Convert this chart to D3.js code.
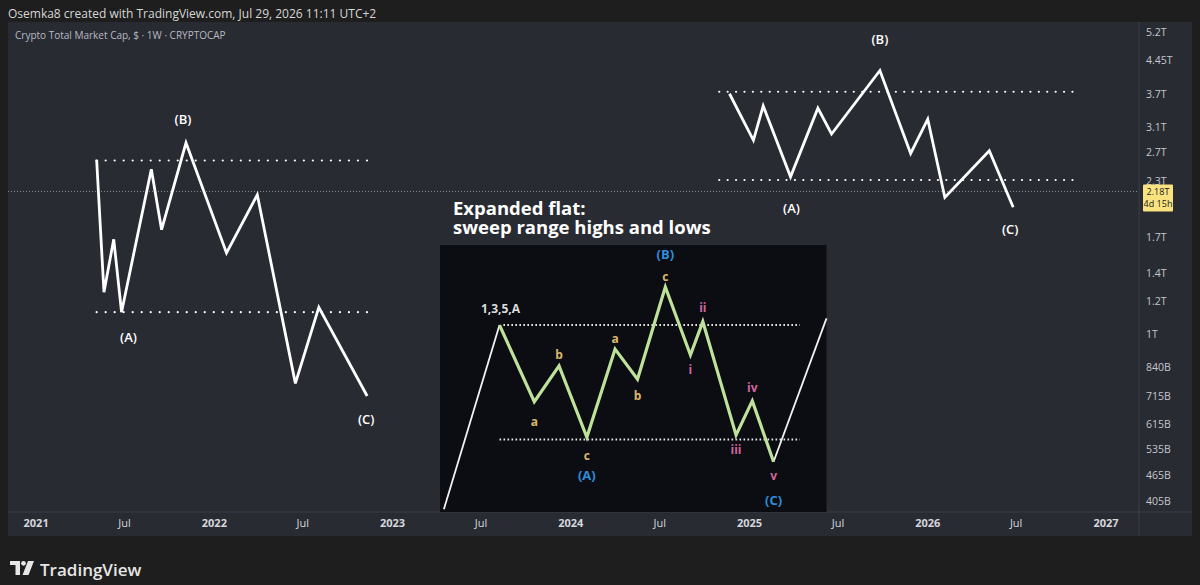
<!DOCTYPE html>
<html>
<head>
<meta charset="utf-8">
<script src="https://cdn.jsdelivr.net/npm/d3@7"></script>
<style>
  body { margin: 0; background: #1e1e1e; }
  svg { display: block; }
</style>
</head>
<body>
<svg width="1200" height="585"></svg>
<script>
// chart data (values in trillions of USD)
const timeTickDates = ["2021-01-01", "2021-07-01", "2022-01-01", "2022-07-01", "2023-01-01", "2023-07-01",
  "2024-01-01", "2024-07-01", "2025-01-01", "2025-07-01", "2026-01-01", "2026-07-01", "2027-01-01"];
const timeTickLabels = ["2021", "Jul", "2022", "Jul", "2023", "Jul", "2024", "Jul", "2025", "Jul", "2026", "Jul", "2027"];
const priceTicks = [5.2, 4.45, 3.7, 3.1, 2.7, 2.3, 1.7, 1.4, 1.2, 1, 0.84, 0.715, 0.615, 0.535, 0.465, 0.405];
const priceTickLabels = ["5.2T", "4.45T", "3.7T", "3.1T", "2.7T", "2.3T", "1.7T", "1.4T", "1.2T", "1T",
  "840B", "715B", "615B", "535B", "465B", "405B"];
const lastPrice = 2.18;
const lastPriceText = ["2.18T", "4d 15h"];

// 2021-2022 flat drawing
const leftWaveDates = ["2021-05-06", "2021-05-21", "2021-06-10", "2021-06-26", "2021-08-26", "2021-09-16",
  "2021-11-05", "2022-01-27", "2022-03-31", "2022-06-17", "2022-08-04", "2022-11-11"];
const leftWaveValues = [2.59, 1.26, 1.68, 1.13, 2.46, 1.77, 2.84, 1.56, 2.14, 0.767, 1.16, 0.716];
const leftRangeDates = ["2021-05-06", "2022-11-20"];
const leftRangeLevels = [2.58, 1.13];

// 2024-2026 flat drawing
const rightWaveDates = ["2024-11-22", "2025-01-10", "2025-01-30", "2025-03-27", "2025-05-22", "2025-06-19",
  "2025-09-26", "2025-11-28", "2026-01-02", "2026-02-06", "2026-05-08", "2026-06-26"];
const rightWaveValues = [3.71, 2.88, 3.47, 2.36, 3.43, 2.98, 4.21, 2.68, 3.23, 2.11, 2.72, 2.0];
const rightRangeDates = ["2024-11-01", "2026-10-26"];
const rightRangeLevels = [3.75, 2.32];

const waveLabels = ["(A)", "(B)", "(C)"];
const leftLabelIdx = [3, 6, 11];
const rightLabelIdx = [3, 6, 11];

// inset sketch (arbitrary 0-100 units)
const insetTitle = ["Expanded flat:", "sweep range highs and lows"];
const entryX = [1, 15.4], entryY = [1, 70.0];
const flatX = [15.4, 24.4, 30.8, 38.0, 45.3, 51.1, 58.3, 64.8, 68.0, 76.6, 80.8, 86.3];
const flatY = [70.0, 41.3, 54.7, 28.0, 61.0, 49.7, 84.3, 58.8, 71.3, 28.8, 41.6, 18.8];
const exitX = [86.3, 100], exitY = [18.8, 72.5];
const insetHiRange = [16.4, 93.1], insetHi = 70.0;
const insetLoRange = [15.4, 93.1], insetLo = 27.2;
const insetLabels = ["1,3,5,A", "a", "b", "c", "(A)", "a", "b", "c", "(B)", "i", "ii", "iii", "iv", "v", "(C)"];
const insetLabelIdx = [0, 1, 2, 3, 3, 4, 5, 6, 6, 7, 8, 9, 10, 11, 11];

// layout
const svg = d3.select("svg");
const frame = { left: 8, top: 22, right: 1192, axisX: 1139, axisY: 512, bottom: 536 };
const chartBg = "#292b33";
const lineCol = "#3b3e47";
const font = "'Open Sans', 'DejaVu Sans', sans-serif";

const parse = d3.utcParse("%Y-%m-%d");
const x = d3.scaleUtc().domain([parse("2021-01-01"), parse("2027-01-01")]).range([35.6, 1105.5]);
const y = d3.scaleLog().domain([0.405, 5.2]).range([500.7, 31.7]);

// header
svg.append("text").attr("x", 8).attr("y", 17.5)
  .attr("fill", "#d6d6d6").attr("font-family", font).attr("font-size", "12px")
  .text("Osemka8 created with TradingView.com, Jul 29, 2026 11:11 UTC+2");

// frame
svg.append("rect").attr("x", frame.left).attr("y", frame.top)
  .attr("width", frame.right - frame.left).attr("height", frame.bottom - frame.top).attr("fill", chartBg);
svg.append("line").attr("x1", frame.axisX).attr("x2", frame.axisX).attr("y1", frame.top).attr("y2", frame.bottom)
  .attr("stroke", lineCol);
svg.append("line").attr("x1", frame.left).attr("x2", frame.right).attr("y1", frame.axisY).attr("y2", frame.axisY)
  .attr("stroke", lineCol);

svg.append("defs").append("clipPath").attr("id", "plot")
  .append("rect").attr("x", frame.left).attr("y", frame.top)
  .attr("width", frame.axisX - frame.left).attr("height", frame.axisY - frame.top);
const plot = svg.append("g").attr("clip-path", "url(#plot)");

// symbol title
svg.append("text").attr("x", 15).attr("y", 38.5)
  .attr("fill", "#b7bac1").attr("font-family", font).attr("font-size", "10px")
  .text("Crypto Total Market Cap, $ · 1W · CRYPTOCAP");

// last price line
plot.append("line").attr("x1", frame.left).attr("x2", frame.axisX)
  .attr("y1", y(lastPrice)).attr("y2", y(lastPrice))
  .attr("stroke", "#8c8f97").attr("stroke-width", 1).attr("stroke-dasharray", "1,2");

// time axis
const timeAxis = svg.append("g").attr("transform", `translate(0,${frame.axisY})`)
  .call(d3.axisBottom(x).tickValues(timeTickDates.map(parse)).tickSize(0).tickPadding(7)
    .tickFormat((d, i) => timeTickLabels[i]));
timeAxis.select(".domain").remove();
timeAxis.selectAll("text")
  .attr("fill", "#d5d7dc").attr("font-family", font).attr("font-size", "11px")
  .attr("font-weight", (d, i) => timeTickLabels[i] === "Jul" ? 400 : 700);

// price axis
const priceAxis = svg.append("g").attr("transform", `translate(${frame.axisX},0)`)
  .call(d3.axisRight(y).tickValues(priceTicks).tickSize(0).tickPadding(7)
    .tickFormat((d, i) => priceTickLabels[i]));
priceAxis.select(".domain").remove();
priceAxis.selectAll("text")
  .attr("fill", "#c3c6cd").attr("font-family", font).attr("font-size", "10.5px");

// last price badge
const badge = svg.append("g").attr("transform", `translate(1143,${y(lastPrice) - 7})`);
badge.append("rect").attr("width", 30).attr("height", 27).attr("rx", 1).attr("fill", "#f9e27f");
badge.selectAll("text").data(lastPriceText).enter().append("text")
  .attr("x", 15).attr("y", (d, i) => 11 + i * 11.5).attr("text-anchor", "middle")
  .attr("fill", "#1a1b20").attr("font-family", font).attr("font-size", "9px")
  .text(d => d);

// flat drawings
const waveLine = d3.line().x(d => x(d.date)).y(d => y(d.value));

function drawFlat(dates, values, rangeDates, rangeLevels, labelIdx, labelOffsets, dotGap) {
  const pts = dates.map((d, i) => ({ date: parse(d), value: values[i] }));
  rangeLevels.forEach(level => {
    plot.append("line")
      .attr("x1", x(parse(rangeDates[0]))).attr("x2", x(parse(rangeDates[1])))
      .attr("y1", y(level)).attr("y2", y(level))
      .attr("stroke", "#ffffff").attr("stroke-width", 2.2)
      .attr("stroke-linecap", "round").attr("stroke-dasharray", `0.01,${dotGap}`);
  });
  plot.append("path").datum(pts)
    .attr("fill", "none").attr("stroke", "#ffffff").attr("stroke-width", 2.8)
    .attr("stroke-linejoin", "miter").attr("d", waveLine);
  waveLabels.forEach((t, k) => {
    const p = pts[labelIdx[k]];
    plot.append("text")
      .attr("x", x(p.date) + labelOffsets[k][0]).attr("y", y(p.value) + labelOffsets[k][1])
      .attr("text-anchor", "middle").attr("dominant-baseline", "central")
      .attr("fill", "#ffffff").attr("font-family", font).attr("font-size", "13px").attr("font-weight", 600)
      .text(t);
  });
}

drawFlat(leftWaveDates, leftWaveValues, leftRangeDates, leftRangeLevels, leftLabelIdx,
  [[7, 25], [-3, -24], [-1, 23]], 9);
drawFlat(rightWaveDates, rightWaveValues, rightRangeDates, rightRangeLevels, rightLabelIdx,
  [[1, 31], [0, -32], [-3, 22]], 8.4);

// inset title
plot.selectAll(".inset-title").data(insetTitle).enter().append("text")
  .attr("x", 453).attr("y", (d, i) => 215 + i * 18.5)
  .attr("fill", "#ffffff").attr("font-family", font).attr("font-size", "18.5px").attr("font-weight", 700)
  .text(d => d);

// inset sketch
const ix = d3.scaleLinear().domain([0, 100]).range([440, 826.5]);
const iy = d3.scaleLinear().domain([0, 100]).range([512, 245]);
const inset = plot.append("g");
inset.append("rect").attr("x", ix(0)).attr("y", iy(100))
  .attr("width", ix(100) - ix(0)).attr("height", iy(0) - iy(100)).attr("fill", "#0b0d12");

const iLine = d3.line().x(d => ix(d[0])).y(d => iy(d[1]));
[[insetHiRange, insetHi], [insetLoRange, insetLo]].forEach(([r, lvl]) => {
  inset.append("line").attr("x1", ix(r[0])).attr("x2", ix(r[1])).attr("y1", iy(lvl)).attr("y2", iy(lvl))
    .attr("stroke", "#e8e8e8").attr("stroke-width", 2).attr("stroke-dasharray", "1.6,2.4");
});
[[entryX, entryY], [exitX, exitY]].forEach(([xs, ys]) => {
  inset.append("path").datum(xs.map((v, i) => [v, ys[i]]))
    .attr("fill", "none").attr("stroke", "#f2f2f2").attr("stroke-width", 1.8).attr("d", iLine);
});
inset.append("path").datum(flatX.map((v, i) => [v, flatY[i]]))
  .attr("fill", "none").attr("stroke", "#bfe29a").attr("stroke-width", 3.2)
  .attr("stroke-linejoin", "miter").attr("d", iLine);

const tan = "#dcb86c", pink = "#d0669c", blue = "#2f8edb";
const insetLabelStyle = [
  [1, -17, "#dcdcdc"], [0, 20, tan], [0, -11, tan], [0, 18, tan], [0, 38, blue],
  [0, -11, tan], [0, 16, tan], [0, -10, tan], [0, -33, blue],
  [0, 14, pink], [0, -14, pink], [0, 14, pink], [0, -13, pink], [0, 14, pink], [0, 38, blue]];
insetLabels.forEach((t, k) => {
  const i = insetLabelIdx[k];
  const [dx, dy, col] = insetLabelStyle[k];
  inset.append("text")
    .attr("x", ix(flatX[i]) + dx).attr("y", iy(flatY[i]) + dy)
    .attr("text-anchor", "middle").attr("dominant-baseline", "central")
    .attr("fill", col).attr("font-family", font)
    .attr("font-size", t.startsWith("(") ? "13px" : "12px").attr("font-weight", 700)
    .text(t);
});

// footer logo
const logo = svg.append("g").attr("fill", "#e6e6e6");
logo.append("path").attr("d", "M10,561 H20 V575 H15.5 V565 H10 Z");
logo.append("circle").attr("cx", 23.5).attr("cy", 563.3).attr("r", 2.4);
logo.append("path").attr("d", "M28,561 H34 L28.5,575 H22.5 Z");
svg.append("text").attr("x", 40).attr("y", 575.5)
  .attr("fill", "#e6e6e6").attr("font-family", font).attr("font-size", "17px").attr("font-weight", 600)
  .text("TradingView");
</script>
</body>
</html>
